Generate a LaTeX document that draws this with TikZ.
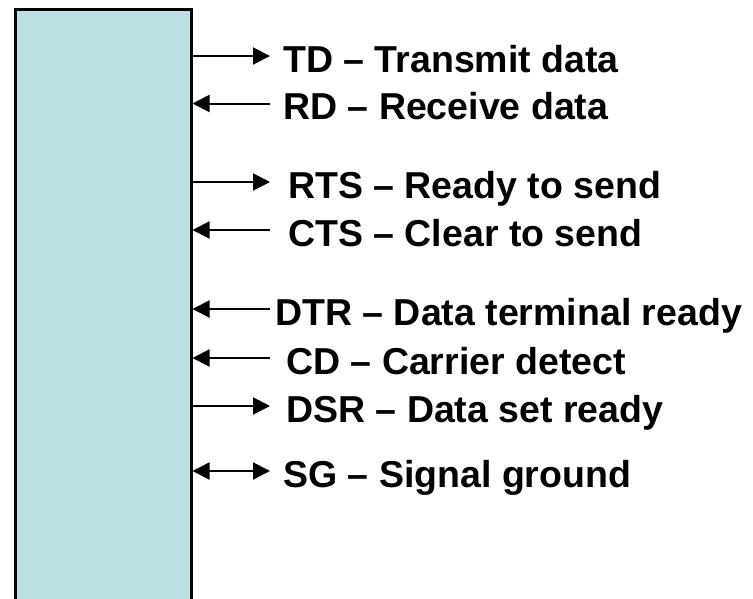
\documentclass[tikz,border=0pt]{standalone}
\usepackage{fontspec}
\setmainfont{Liberation Sans}
\usetikzlibrary{calc,arrows.meta}
\definecolor{portblue}{RGB}{187,224,227}

\begin{document}
\begin{tikzpicture}[x=1pt,y=-1pt,
		tip/.tip={Triangle[length=17pt,width=17pt]},
		sig/.style={line width=2pt},
		lbl/.style={anchor=base west,inner sep=0pt,font=\fontsize{37.5}{42}\selectfont\bfseries}]
		\useasboundingbox (0,0) rectangle (753,598);
		\node(0) [draw,line width=2.5pt,fill=portblue,inner sep=0pt,anchor=north west,
			minimum width=176pt,minimum height=620pt] at (14,8) {};
		\coordinate(1e) at (270,56);
		\coordinate(2e) at (270,103.5);
		\coordinate(3e) at (270,182);
		\coordinate(4e) at (270,230);
		\coordinate(5e) at (270,309);
		\coordinate(6e) at (270,358);
		\coordinate(7e) at (270,406);
		\coordinate(8e) at (270,471);
		\node(1) [lbl] at ($(1e)+(13,16)$) {TD -- Transmit data};
		\node(2) [lbl] at ($(2e)+(13,16)$) {RD -- Receive data};
		\node(3) [lbl] at ($(3e)+(18,16)$) {RTS -- Ready to send};
		\node(4) [lbl] at ($(4e)+(18,16)$) {CTS -- Clear to send};
		\node(5) [lbl] at ($(5e)+(5,16)$) {DTR -- Data terminal ready};
		\node(6) [lbl] at ($(6e)+(16,16)$) {CD -- Carrier detect};
		\node(7) [lbl] at ($(7e)+(16,16)$) {DSR -- Data set ready};
		\node(8) [lbl] at ($(8e)+(13,16)$) {SG -- Signal ground};
		\path[sig]
			(0.east |- 1e) edge[-tip] (1e)
			(2e) edge[-tip] (0.east |- 2e)
			(0.east |- 3e) edge[-tip] (3e)
			(4e) edge[-tip] (0.east |- 4e)
			(5e) edge[-tip] (0.east |- 5e)
			(6e) edge[-tip] (0.east |- 6e)
			(0.east |- 7e) edge[-tip] (7e)
			(0.east |- 8e) edge[tip-tip] (8e);
	\end{tikzpicture}
\end{document}
